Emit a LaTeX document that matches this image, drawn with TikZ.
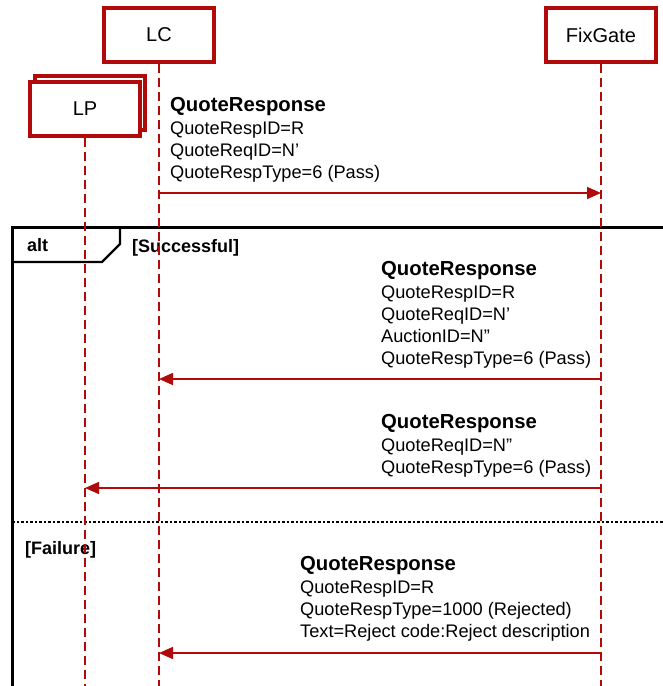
\documentclass[tikz,border=0pt]{standalone}
\usepackage{fontspec}
\setmainfont{Liberation Sans}
\usetikzlibrary{arrows.meta}
\definecolor{seqred}{RGB}{176,10,10}

\begin{document}
\begin{tikzpicture}[
    x=1pt, y=-1pt,
    every node/.style={font=\fontsize{18.2}{22}\selectfont},
    lifebox/.style={draw=seqred, line width=3.2pt, fill=white, minimum width=110pt,
      minimum height=54pt, font=\fontsize{20}{24}\selectfont},
    lifeline/.style={draw=seqred, line width=1.8pt, dash pattern=on 9pt off 5pt},
    msg/.style={draw=seqred, line width=1.6pt, -{Triangle[length=14pt, width=12pt]}},
    msgtext/.style={anchor=north west, inner sep=0pt, align=left},
    frame/.style={draw=black, line width=3pt},
    guard/.style={anchor=west, inner sep=0pt, font=\fontsize{18}{22}\selectfont\bfseries}
  ]
  \useasboundingbox (0,0) rectangle (663,686);

  % alt frame
  \draw[frame] (670,227) -- (12,227) -- (12,690);
  \draw[black, line width=2.4pt] (12,262) -- (102,262) -- (120,244) -- (120,227);
  \draw[black, line width=1.3pt, dash pattern=on 2.5pt off 2pt] (12,522) -- (663,522);
  \node[guard] (altlabel) at (27,245) {alt};
  \node[guard] (success) at (132,248) {[Successful]};
  \node[guard] (failure) at (25,550) {[Failure]};

  % participants
  \node[lifebox] (lc) at (159,35) {LC};
  \node[lifebox] (fg) at (601,35) {FixGate};
  \node[lifebox] (lpback) at (90,103) {};
  \node[lifebox] (lp) at (85,109) {LP};

  \coordinate (bottom) at (0,690);
  \draw[lifeline] (lc.south) -- (lc.south |- bottom);
  \draw[lifeline] (fg.south) -- (fg.south |- bottom);
  \draw[lifeline] (lp.south) -- (lp.south |- bottom);

  % messages
  \coordinate (m1) at (0,193);
  \coordinate (m2) at (0,379);
  \coordinate (m3) at (0,488);
  \coordinate (m4) at (0,653);

  \draw[msg] (lc |- m1) -- (fg |- m1);
  \node[msgtext] (t1) at (170,97) {{\fontsize{20.3}{24}\selectfont\bfseries QuoteResponse}\\[1.5pt]
    QuoteRespID=R\\QuoteReqID=N'\\QuoteRespType=6 (Pass)};

  \draw[msg] (fg |- m2) -- (lc |- m2);
  \node[msgtext] (t2) at (381,261) {{\fontsize{20.3}{24}\selectfont\bfseries QuoteResponse}\\[1.5pt]
    QuoteRespID=R\\QuoteReqID=N'\\AuctionID=N''\\QuoteRespType=6 (Pass)};

  \draw[msg] (fg |- m3) -- (lp |- m3);
  \node[msgtext] (t3) at (381,414) {{\fontsize{20.3}{24}\selectfont\bfseries QuoteResponse}\\[1.5pt]
    QuoteReqID=N''\\QuoteRespType=6 (Pass)};

  \draw[msg] (fg |- m4) -- (lc |- m4);
  \node[msgtext] (t4) at (300,556) {{\fontsize{20.3}{24}\selectfont\bfseries QuoteResponse}\\[1.5pt]
    QuoteRespID=R\\QuoteRespType=1000 (Rejected)\\Text=Reject code:Reject description};
\end{tikzpicture}
\end{document}
